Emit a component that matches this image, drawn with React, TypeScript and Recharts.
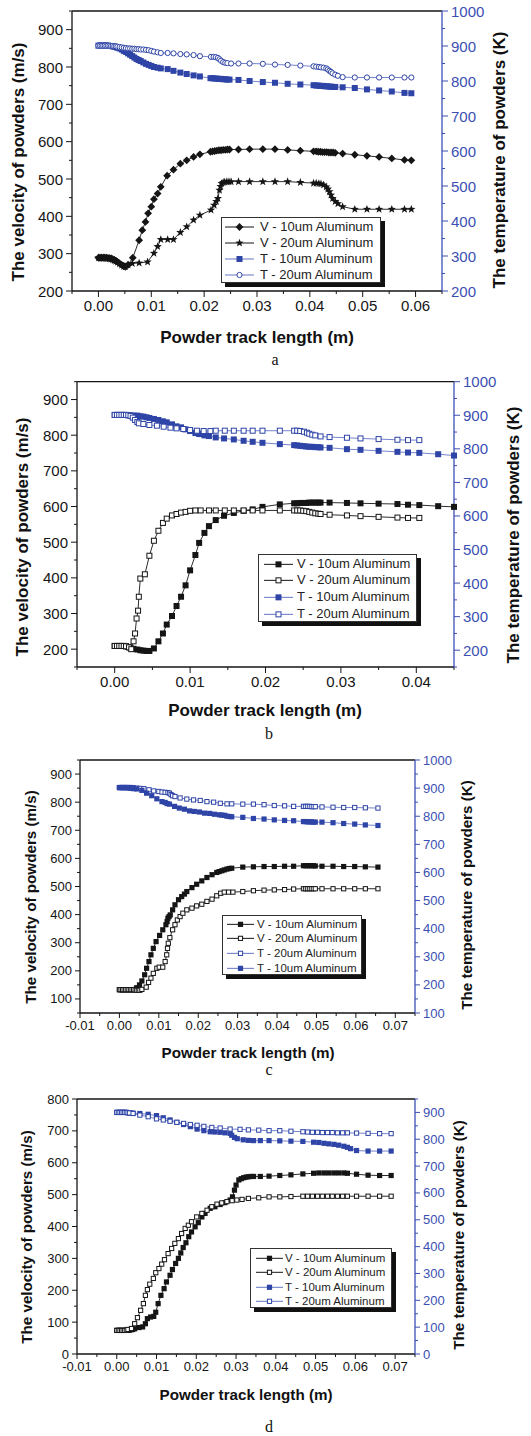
import React from "react";
import { LineChart, Line, XAxis, YAxis } from "recharts";

type Pt = [number, number]; // [track length (m), value]

// ---------- panel a ----------
const A_V10: Pt[] = [
  [0, 289], [0.0003, 289], [0.0006, 289], [0.0009, 289], [0.0012, 289], [0.0015, 289], [0.0018, 288], [0.0021, 288],
  [0.0024, 287], [0.0027, 285], [0.003, 283], [0.0033, 281], [0.0036, 278], [0.004, 274], [0.0044, 270], [0.0048, 267],
  [0.0051, 265], [0.0056, 270], [0.0065, 289], [0.0077, 336], [0.0083, 363], [0.0089, 385], [0.0094, 408], [0.01, 426],
  [0.0105, 446], [0.0112, 461], [0.0118, 479], [0.013, 509], [0.0142, 525], [0.0155, 541], [0.0167, 550], [0.018, 559],
  [0.0192, 566], [0.0212, 573], [0.0216, 574], [0.022, 575], [0.0224, 576], [0.0228, 577], [0.0232, 577], [0.0236, 578],
  [0.024, 578], [0.0244, 579], [0.0248, 579], [0.0265, 579], [0.0286, 580], [0.0311, 580], [0.0334, 580], [0.0358, 578],
  [0.0382, 576], [0.0407, 574], [0.0412, 574], [0.0416, 573], [0.042, 573], [0.0424, 572], [0.0428, 572], [0.0432, 572],
  [0.0436, 571], [0.044, 571], [0.0444, 571], [0.0448, 570], [0.0462, 568], [0.0485, 565], [0.0508, 562], [0.0531, 559],
  [0.0555, 555], [0.0579, 551], [0.0592, 550],
];
const A_V20: Pt[] = [
  [0, 289], [0.0003, 289], [0.0006, 289], [0.0009, 289], [0.0012, 289], [0.0015, 288], [0.0018, 288], [0.0021, 287],
  [0.0024, 286], [0.0027, 284], [0.003, 282], [0.0033, 280], [0.0036, 277], [0.004, 273], [0.0044, 269], [0.0048, 266],
  [0.0051, 265], [0.0056, 270], [0.0064, 274], [0.0077, 275], [0.0093, 278], [0.0105, 301], [0.0112, 319], [0.0118, 338],
  [0.0131, 338], [0.0142, 338], [0.0155, 357], [0.0167, 372], [0.018, 390], [0.0192, 403], [0.0213, 417], [0.0219, 430],
  [0.0223, 440], [0.0226, 448], [0.0229, 470], [0.0231, 480], [0.0233, 488], [0.0236, 491], [0.0239, 492], [0.0243, 493],
  [0.0247, 493], [0.0251, 493], [0.0265, 493], [0.0286, 493], [0.0311, 493], [0.0334, 493], [0.0358, 493], [0.0382, 491],
  [0.0407, 489], [0.0412, 489], [0.0417, 488], [0.0421, 487], [0.0426, 484], [0.0431, 479], [0.0434, 473], [0.0437, 466],
  [0.044, 457], [0.0443, 448], [0.0448, 440], [0.0453, 434], [0.0462, 426], [0.0485, 419], [0.0508, 419], [0.0531, 419],
  [0.0555, 419], [0.0579, 419], [0.0592, 419],
];
const A_T10: Pt[] = [
  [0, 901], [0.0003, 901], [0.0006, 901], [0.0009, 901], [0.0012, 901], [0.0015, 901], [0.0018, 901], [0.0021, 900],
  [0.0024, 900], [0.0027, 899], [0.003, 898], [0.0033, 897], [0.0036, 895], [0.004, 893], [0.0044, 890], [0.0048, 886],
  [0.0052, 883], [0.0056, 879], [0.006, 875], [0.0064, 871], [0.0068, 867], [0.0072, 863], [0.0076, 860], [0.008, 857],
  [0.0085, 853], [0.009, 849], [0.0095, 846], [0.01, 843], [0.0105, 840], [0.0112, 838], [0.0118, 836], [0.0131, 834],
  [0.0142, 829], [0.0155, 824], [0.0167, 820], [0.018, 816], [0.0192, 813], [0.0212, 808], [0.0216, 808], [0.022, 807],
  [0.0224, 807], [0.0228, 806], [0.0232, 806], [0.0236, 805], [0.024, 805], [0.0244, 804], [0.0248, 804], [0.0265, 803],
  [0.0286, 800], [0.0311, 797], [0.0334, 795], [0.0358, 792], [0.0382, 790], [0.0407, 788], [0.0412, 787], [0.0416, 787],
  [0.042, 786], [0.0424, 786], [0.0428, 785], [0.0432, 785], [0.0436, 784], [0.044, 784], [0.0444, 783], [0.0448, 783],
  [0.0462, 782], [0.0485, 780], [0.0508, 776], [0.0531, 773], [0.0555, 770], [0.0579, 766], [0.0592, 765],
];
const A_T20: Pt[] = [
  [0, 901], [0.0003, 901], [0.0006, 901], [0.0009, 901], [0.0012, 901], [0.0015, 901], [0.0018, 901], [0.0021, 901],
  [0.0024, 900], [0.0027, 900], [0.003, 899], [0.0033, 899], [0.0036, 898], [0.004, 897], [0.0044, 896], [0.0048, 895],
  [0.0052, 894], [0.0056, 893], [0.006, 893], [0.0064, 892], [0.0068, 892], [0.0072, 891], [0.0076, 891], [0.008, 890],
  [0.0085, 890], [0.009, 889], [0.0095, 888], [0.01, 886], [0.0105, 884], [0.0112, 882], [0.0118, 880], [0.0131, 880],
  [0.0142, 879], [0.0155, 877], [0.0167, 876], [0.018, 874], [0.0192, 871], [0.0213, 869], [0.0218, 869], [0.0222, 868],
  [0.0226, 866], [0.0229, 862], [0.0232, 858], [0.0236, 854], [0.024, 852], [0.0244, 851], [0.0251, 850], [0.0265, 850],
  [0.0286, 850], [0.0311, 849], [0.0334, 847], [0.0358, 846], [0.0382, 844], [0.0407, 842], [0.0412, 841], [0.0417, 840],
  [0.0421, 839], [0.0426, 838], [0.0431, 836], [0.0434, 833], [0.0437, 829], [0.044, 826], [0.0443, 822], [0.0448, 818],
  [0.0453, 815], [0.0462, 811], [0.0485, 810], [0.0508, 810], [0.0531, 810], [0.0555, 810], [0.0579, 810], [0.0592, 810],
];

// ---------- panel b ----------
const B_V10: Pt[] = [
  [0, 209], [0.0003, 209], [0.0006, 209], [0.0009, 209], [0.0012, 209], [0.0015, 208], [0.0018, 206], [0.0021, 203],
  [0.0025, 201], [0.003, 199], [0.0034, 197], [0.0038, 196], [0.0042, 195], [0.0046, 195], [0.0052, 202], [0.0058, 222],
  [0.0064, 244], [0.0069, 269], [0.0076, 293], [0.0082, 321], [0.0088, 347], [0.0094, 379], [0.01, 421], [0.0107, 464],
  [0.0112, 498], [0.0119, 526], [0.0125, 545], [0.0134, 562], [0.0145, 574], [0.0158, 582], [0.0171, 588], [0.0183, 592],
  [0.0196, 599], [0.0219, 606], [0.0238, 609], [0.0242, 609], [0.0246, 610], [0.025, 610], [0.0254, 610], [0.0258, 611],
  [0.0262, 611], [0.0266, 611], [0.027, 611], [0.0273, 611], [0.0285, 611], [0.0308, 610], [0.0326, 609], [0.035, 608],
  [0.0375, 607], [0.0389, 605], [0.0404, 604], [0.0429, 601], [0.045, 599],
];
const B_V20: Pt[] = [
  [0, 209], [0.0003, 209], [0.0006, 209], [0.0009, 209], [0.0012, 209], [0.0015, 208], [0.0019, 205], [0.0022, 200],
  [0.0025, 222], [0.0027, 244], [0.0029, 286], [0.0031, 308], [0.0032, 347], [0.0034, 398], [0.004, 410], [0.0046, 462],
  [0.0052, 504], [0.0058, 532], [0.0064, 554], [0.0069, 566], [0.0076, 575], [0.0082, 579], [0.0088, 583], [0.0094, 585],
  [0.01, 588], [0.0107, 589], [0.0114, 589], [0.0125, 589], [0.0134, 589], [0.0146, 589], [0.0158, 589], [0.0171, 589],
  [0.0183, 589], [0.0196, 589], [0.0219, 589], [0.0238, 589], [0.0242, 589], [0.0246, 589], [0.025, 588], [0.0254, 587],
  [0.0258, 585], [0.0262, 583], [0.0266, 581], [0.027, 580], [0.0273, 579], [0.0285, 577], [0.0308, 575], [0.0326, 573],
  [0.035, 571], [0.0375, 569], [0.0389, 568], [0.0404, 568],
];
const B_T10: Pt[] = [
  [0, 901], [0.0003, 901], [0.0006, 901], [0.0009, 901], [0.0012, 901], [0.0015, 901], [0.0018, 900], [0.0021, 900],
  [0.0025, 899], [0.003, 899], [0.0034, 897], [0.0038, 896], [0.0042, 894], [0.0046, 892], [0.0052, 889], [0.0058, 886],
  [0.0064, 882], [0.0069, 879], [0.0076, 873], [0.0082, 867], [0.0088, 864], [0.0094, 858], [0.01, 853], [0.0107, 847],
  [0.0112, 844], [0.0119, 840], [0.0125, 838], [0.0134, 834], [0.0145, 831], [0.0158, 828], [0.0171, 824], [0.0183, 821],
  [0.0196, 818], [0.0219, 814], [0.0238, 811], [0.0242, 810], [0.0246, 809], [0.025, 808], [0.0254, 807], [0.0258, 806],
  [0.0262, 806], [0.0266, 805], [0.027, 805], [0.0273, 804], [0.0285, 803], [0.0308, 799], [0.0326, 797], [0.035, 794],
  [0.0375, 791], [0.0389, 789], [0.0404, 788], [0.0429, 784], [0.045, 780],
];
const B_T20: Pt[] = [
  [0, 901], [0.0003, 901], [0.0006, 901], [0.0009, 901], [0.0012, 901], [0.0015, 901], [0.0018, 900], [0.0021, 898],
  [0.0024, 893], [0.0027, 886], [0.003, 880], [0.0032, 876], [0.0038, 874], [0.0046, 871], [0.0056, 869], [0.0065, 866],
  [0.0074, 863], [0.0082, 861], [0.0091, 859], [0.01, 856], [0.0109, 854], [0.0118, 853], [0.0127, 853], [0.0134, 854],
  [0.0146, 854], [0.0158, 854], [0.0171, 854], [0.0183, 854], [0.0196, 854], [0.0219, 854], [0.0238, 854], [0.0242, 854],
  [0.0246, 853], [0.0251, 851], [0.0255, 848], [0.0258, 845], [0.0262, 842], [0.0266, 840], [0.0273, 837], [0.0285, 835],
  [0.0308, 833], [0.0326, 831], [0.035, 829], [0.0375, 827], [0.0389, 826], [0.0404, 826],
];

// ---------- panel c ----------
const C_V10: Pt[] = [
  [0, 133], [0.0004, 133], [0.0008, 133], [0.0012, 133], [0.0016, 133], [0.002, 133], [0.0024, 133], [0.0028, 133],
  [0.0032, 133], [0.0036, 133], [0.004, 134], [0.0044, 140], [0.0051, 150], [0.0057, 164], [0.0064, 186], [0.0069, 209],
  [0.0075, 233], [0.008, 257], [0.0086, 280], [0.0093, 304], [0.0102, 326], [0.011, 346], [0.0118, 364], [0.0121, 375],
  [0.0123, 387], [0.0126, 393], [0.0129, 399], [0.0135, 417], [0.0141, 435], [0.015, 453], [0.0158, 464], [0.0165, 473],
  [0.0171, 482], [0.0184, 496], [0.0196, 508], [0.0209, 520], [0.0222, 532], [0.0235, 542], [0.0247, 550], [0.0253, 553],
  [0.026, 556], [0.0266, 559], [0.0273, 562], [0.0279, 564], [0.0285, 565], [0.0313, 569], [0.034, 570], [0.0367, 571],
  [0.0393, 571], [0.0419, 572], [0.0442, 572], [0.0467, 574], [0.0472, 574], [0.0477, 574], [0.0482, 574], [0.0487, 574],
  [0.0492, 574], [0.0497, 573], [0.0514, 572], [0.0542, 572], [0.0569, 571], [0.0597, 571], [0.0624, 570], [0.0656, 569],
];
const C_V20: Pt[] = [
  [0, 133], [0.0004, 133], [0.0008, 133], [0.0012, 133], [0.0016, 133], [0.002, 133], [0.0024, 133], [0.0028, 133],
  [0.0032, 133], [0.0036, 133], [0.004, 132], [0.0044, 131], [0.0048, 131], [0.0052, 131], [0.0057, 134], [0.0068, 142],
  [0.0074, 159], [0.008, 174], [0.0086, 191], [0.0095, 209], [0.0101, 213], [0.011, 213], [0.0116, 233], [0.012, 257],
  [0.0122, 280], [0.0124, 298], [0.0128, 318], [0.0135, 346], [0.0141, 364], [0.0147, 381], [0.0154, 393], [0.0161, 405],
  [0.0171, 417], [0.0184, 423], [0.0196, 431], [0.0209, 437], [0.0222, 447], [0.0235, 455], [0.0247, 467], [0.0257, 476],
  [0.0266, 480], [0.0277, 480], [0.0288, 480], [0.0313, 482], [0.034, 485], [0.0367, 487], [0.0393, 488], [0.0419, 489],
  [0.0442, 491], [0.0467, 492], [0.0472, 492], [0.0477, 492], [0.0482, 492], [0.0487, 492], [0.0492, 492], [0.0497, 492],
  [0.0514, 492], [0.0542, 492], [0.0569, 492], [0.0597, 492], [0.0624, 492], [0.0656, 492],
];
const C_T20: Pt[] = [
  [0, 902], [0.0004, 902], [0.0008, 902], [0.0012, 902], [0.0016, 902], [0.002, 902], [0.0024, 902], [0.0028, 902],
  [0.0032, 902], [0.0036, 901], [0.0044, 900], [0.0052, 899], [0.0062, 898], [0.0075, 894], [0.0087, 890], [0.01, 888],
  [0.0108, 886], [0.0116, 885], [0.0123, 884], [0.0127, 882], [0.0131, 877], [0.0135, 873], [0.0141, 870], [0.0154, 865],
  [0.0171, 861], [0.0188, 858], [0.0205, 856], [0.0222, 852], [0.0239, 850], [0.0256, 846], [0.0273, 844], [0.0285, 844],
  [0.0313, 843], [0.034, 843], [0.0367, 841], [0.0393, 838], [0.0419, 837], [0.0442, 835], [0.0467, 835], [0.0472, 835],
  [0.0477, 835], [0.0482, 835], [0.0487, 834], [0.0492, 834], [0.0497, 834], [0.0514, 833], [0.0542, 832], [0.0569, 831],
  [0.0597, 831], [0.0624, 830], [0.0656, 829],
];
const C_T10: Pt[] = [
  [0, 902], [0.0004, 902], [0.0008, 902], [0.0012, 902], [0.0016, 902], [0.002, 902], [0.0024, 901], [0.0028, 900],
  [0.0032, 899], [0.0036, 898], [0.0044, 897], [0.0057, 892], [0.0069, 882], [0.0082, 873], [0.0095, 862], [0.0108, 852],
  [0.0116, 849], [0.0121, 845], [0.0127, 843], [0.014, 835], [0.0152, 829], [0.0165, 825], [0.0178, 819], [0.019, 817],
  [0.0203, 815], [0.0216, 811], [0.0229, 810], [0.0241, 807], [0.0254, 805], [0.026, 804], [0.0267, 803], [0.0273, 800],
  [0.028, 799], [0.0285, 798], [0.0313, 796], [0.034, 792], [0.0367, 790], [0.0393, 787], [0.0419, 785], [0.0442, 784],
  [0.0467, 781], [0.0472, 781], [0.0477, 780], [0.0482, 780], [0.0487, 780], [0.0492, 779], [0.0497, 779], [0.0514, 779],
  [0.0542, 777], [0.0569, 774], [0.0597, 772], [0.0624, 769], [0.0656, 767],
];

// ---------- panel d ----------
const D_V10: Pt[] = [
  [0, 74], [0.0004, 74], [0.0008, 74], [0.0012, 74], [0.0016, 74], [0.002, 74], [0.0024, 74], [0.0028, 74], [0.0032, 75],
  [0.0036, 76], [0.004, 77], [0.0045, 79], [0.0056, 83], [0.0065, 85], [0.0072, 95], [0.0077, 111], [0.0085, 116],
  [0.0093, 118], [0.0098, 131], [0.0104, 158], [0.0111, 184], [0.0119, 205], [0.0125, 226], [0.0134, 247], [0.014, 265],
  [0.0148, 284], [0.0155, 300], [0.0161, 317], [0.0167, 334], [0.0174, 349], [0.0181, 368], [0.0188, 383], [0.0197, 399],
  [0.0205, 412], [0.0214, 430], [0.0222, 441], [0.0235, 457], [0.0247, 462], [0.026, 469], [0.0272, 475], [0.0285, 483],
  [0.0291, 493], [0.0296, 514], [0.03, 530], [0.0307, 546], [0.0313, 550], [0.0319, 553], [0.0325, 555], [0.0331, 556],
  [0.0338, 557], [0.0344, 557], [0.0361, 557], [0.0383, 558], [0.041, 560], [0.0438, 562], [0.0468, 565], [0.0495, 567],
  [0.0508, 568], [0.0521, 568], [0.0533, 568], [0.0546, 568], [0.0558, 568], [0.0571, 568], [0.058, 567], [0.0603, 564],
  [0.0632, 561], [0.0661, 560], [0.069, 560],
];
const D_V20: Pt[] = [
  [0, 74], [0.0004, 74], [0.0008, 74], [0.0012, 74], [0.0016, 74], [0.002, 74], [0.0024, 75], [0.0028, 77], [0.0037, 80],
  [0.0045, 95], [0.0052, 114], [0.006, 137], [0.0067, 158], [0.0072, 184], [0.0077, 202], [0.0083, 219], [0.0092, 237],
  [0.0098, 255], [0.0106, 268], [0.0113, 282], [0.012, 296], [0.0129, 315], [0.0138, 331], [0.0146, 347], [0.0155, 362],
  [0.0163, 378], [0.0172, 394], [0.018, 404], [0.0188, 415], [0.0201, 430], [0.0214, 441], [0.0227, 451], [0.0239, 462],
  [0.0252, 470], [0.0264, 474], [0.0277, 478], [0.029, 481], [0.0302, 483], [0.0315, 485], [0.0331, 488], [0.0357, 490],
  [0.0383, 493], [0.041, 493], [0.0438, 494], [0.0468, 495], [0.048, 495], [0.0492, 495], [0.0505, 495], [0.0517, 495],
  [0.053, 495], [0.0542, 495], [0.0555, 495], [0.0568, 495], [0.058, 495], [0.0603, 495], [0.0632, 495], [0.0661, 495],
  [0.069, 495],
];
const D_T10: Pt[] = [
  [0, 900], [0.0004, 900], [0.0008, 900], [0.0012, 900], [0.0016, 900], [0.002, 900], [0.0024, 900], [0.0028, 899],
  [0.0032, 899], [0.0036, 898], [0.0041, 897], [0.0058, 896], [0.0079, 893], [0.01, 888], [0.0117, 880], [0.0134, 872],
  [0.0151, 863], [0.0168, 855], [0.0185, 847], [0.0202, 838], [0.0219, 832], [0.0235, 828], [0.0247, 827], [0.026, 826],
  [0.0272, 824], [0.0285, 822], [0.0289, 815], [0.0296, 807], [0.0303, 802], [0.0318, 798], [0.0331, 796], [0.0344, 795],
  [0.0361, 795], [0.0383, 795], [0.041, 794], [0.0438, 793], [0.0468, 792], [0.0495, 789], [0.0508, 788], [0.0521, 785],
  [0.0533, 783], [0.0546, 781], [0.0558, 778], [0.0571, 774], [0.058, 770], [0.0588, 765], [0.0603, 758], [0.0632, 756],
  [0.0661, 756], [0.069, 756],
];
const D_T20: Pt[] = [
  [0, 900], [0.0004, 900], [0.0008, 900], [0.0012, 900], [0.0016, 900], [0.002, 900], [0.0024, 900], [0.0028, 899],
  [0.0032, 898], [0.0041, 896], [0.0058, 890], [0.0079, 884], [0.01, 876], [0.0117, 872], [0.0134, 867], [0.0151, 863],
  [0.0168, 859], [0.0185, 855], [0.0202, 852], [0.0219, 848], [0.0239, 844], [0.026, 842], [0.0285, 838], [0.031, 837],
  [0.0331, 835], [0.0357, 834], [0.0383, 832], [0.041, 832], [0.0438, 830], [0.0468, 828], [0.048, 827], [0.0492, 826],
  [0.0505, 826], [0.0517, 825], [0.053, 825], [0.0542, 825], [0.0555, 824], [0.0568, 824], [0.058, 824], [0.0603, 823],
  [0.0632, 822], [0.0661, 821], [0.069, 821],
];

// ---------- ticks ----------
const A_X_TICKS = [0, 0.01, 0.02, 0.03, 0.04, 0.05, 0.06];
const B_X_TICKS = [0, 0.01, 0.02, 0.03, 0.04];
const CD_X_TICKS = [-0.01, 0, 0.01, 0.02, 0.03, 0.04, 0.05, 0.06, 0.07];
const A_V_TICKS = [200, 300, 400, 500, 600, 700, 800, 900];
const A_T_TICKS = [200, 300, 400, 500, 600, 700, 800, 900, 1000];
const B_V_TICKS = [200, 300, 400, 500, 600, 700, 800, 900];
const B_T_TICKS = [200, 300, 400, 500, 600, 700, 800, 900, 1000];
const C_V_TICKS = [100, 200, 300, 400, 500, 600, 700, 800, 900];
const C_T_TICKS = [100, 200, 300, 400, 500, 600, 700, 800, 900, 1000];
const D_V_TICKS = [0, 100, 200, 300, 400, 500, 600, 700, 800];
const D_T_TICKS = [0, 100, 200, 300, 400, 500, 600, 700, 800, 900];

const V10 = "V - 10um Aluminum";
const V20 = "V - 20um Aluminum";
const T10 = "T - 10um Aluminum";
const T20 = "T - 20um Aluminum";

const X_TITLE = "Powder track length (m)";
const V_TITLE = "The velocity of powders (m/s)";
const T_TITLE = "The temperature of powders (K)";

const BLACK = "#151515";
const BLUE = "#2e44a6";
const BLUE_LINE = "#6676c6";
const BLUE_AXIS = "#3b4fb3";
const SANS = "'Liberation Sans', Arial, Helvetica, sans-serif";
const SERIF = "'Liberation Serif', 'Times New Roman', serif";

type Kind = "diamond" | "star" | "sq" | "osq" | "ocirc";

function Mark({ cx, cy, kind, color, r }: { cx?: number; cy?: number; kind: Kind; color: string; r: number }) {
  if (cx == null || cy == null || isNaN(cx) || isNaN(cy)) return null;
  if (kind === "diamond") {
    const s = r * 1.3;
    return <path d={`M${cx},${cy - s}L${cx + s},${cy}L${cx},${cy + s}L${cx - s},${cy}Z`} fill={color} />;
  }
  if (kind === "star") {
    const pts: string[] = [];
    for (let i = 0; i < 10; i++) {
      const a = -Math.PI / 2 + (i * Math.PI) / 5;
      const rr = i % 2 === 0 ? r * 1.45 : r * 0.6;
      pts.push(`${cx + rr * Math.cos(a)},${cy + rr * Math.sin(a)}`);
    }
    return <polygon points={pts.join(" ")} fill={color} />;
  }
  if (kind === "sq") return <rect x={cx - r} y={cy - r} width={2 * r} height={2 * r} fill={color} />;
  if (kind === "osq")
    return <rect x={cx - r + 0.5} y={cy - r + 0.5} width={2 * r - 1} height={2 * r - 1} fill="#fff" stroke={color} strokeWidth={1} />;
  return <circle cx={cx} cy={cy} r={r - 0.4} fill="#fff" stroke={color} strokeWidth={1} />;
}

// minor ticks halfway between the majors, filling the axis domain
function withMinors(major: number[], dom: [number, number]) {
  const step = (major[1] - major[0]) / 2;
  const out: number[] = [];
  const n0 = Math.ceil((dom[0] - major[0]) / step - 1e-6);
  const n1 = Math.floor((dom[1] - major[0]) / step + 1e-6);
  for (let i = n0; i <= n1; i++) out.push(Number((major[0] + i * step).toFixed(6)));
  return out;
}

function AxisTick(props: any) {
  const { x, y, payload, side, major, fs, color, len, gap, fmt } = props;
  const v = payload.value;
  const isMajor = major.some((m: number) => Math.abs(m - v) < 1e-7);
  const l = isMajor ? len : Math.round(len * 0.55);
  const textStyle = { fontFamily: SANS, fontSize: fs, fill: color };
  if (side === "left")
    return (
      <g>
        <line x1={x} y1={y} x2={x - l} y2={y} stroke={color} strokeWidth={1} />
        {isMajor && (
          <text x={x - len - gap} y={y} textAnchor="end" dominantBaseline="central" style={textStyle}>{fmt(v)}</text>
        )}
      </g>
    );
  if (side === "right")
    return (
      <g>
        <line x1={x} y1={y} x2={x + l} y2={y} stroke={color} strokeWidth={1} />
        {isMajor && (
          <text x={x + len + gap} y={y} textAnchor="start" dominantBaseline="central" style={textStyle}>{fmt(v)}</text>
        )}
      </g>
    );
  if (side === "top") return <line x1={x} y1={y} x2={x} y2={y + l} stroke={color} strokeWidth={1} />;
  return (
    <g>
      <line x1={x} y1={y} x2={x} y2={y + l} stroke={color} strokeWidth={1} />
      {isMajor && (
        <text x={x} y={y + len + gap} dy="0.72em" textAnchor="middle" style={textStyle}>{fmt(v)}</text>
      )}
    </g>
  );
}

interface Series { data: Pt[]; axis: "v" | "t"; kind: Kind; name: string }

interface Panel {
  id: string;
  top: number; h: number; ml: number; mr: number; mt: number;
  xDom: [number, number]; vDom: [number, number]; tDom: [number, number];
  xMajor: number[]; vMajor: number[]; tMajor: number[];
  series: Series[];
  fs: number; len: number; gap: number; r: number; titleFs: number;
  vTitle: [number, number]; tTitle: [number, number]; xTitle: [number, number]; letter: [number, number];
  legend: { left: number; top: number; w: number; h: number; rowH: number; padTop: number; fs: number; lineX0: number; lineX1: number; textX: number };
}

const PANELS: Panel[] = [
  {
    id: "a", top: 0, h: 321, ml: 72, mr: 89, mt: 10,
    xDom: [-0.005, 0.065], vDom: [200, 950], tDom: [200, 1000],
    xMajor: A_X_TICKS, vMajor: A_V_TICKS, tMajor: A_T_TICKS,
    series: [
      { data: A_V10, axis: "v", kind: "diamond", name: V10 },
      { data: A_V20, axis: "v", kind: "star", name: V20 },
      { data: A_T10, axis: "t", kind: "sq", name: T10 },
      { data: A_T20, axis: "t", kind: "ocirc", name: T20 },
    ],
    fs: 15, len: 6, gap: 3, r: 3, titleFs: 17,
    vTitle: [18, 162], tTitle: [499, 160], xTitle: [257, 337], letter: [275, 360],
    legend: { left: 221, top: 217, w: 160, h: 66, rowH: 16, padTop: 1, fs: 13, lineX0: 3, lineX1: 32, textX: 38 },
  },
  {
    id: "b", top: 370, h: 327, ml: 77, mr: 77, mt: 10.7,
    xDom: [-0.005, 0.045], vDom: [150, 950], tDom: [150, 1000],
    xMajor: B_X_TICKS, vMajor: B_V_TICKS, tMajor: B_T_TICKS,
    series: [
      { data: B_V10, axis: "v", kind: "sq", name: V10 },
      { data: B_V20, axis: "v", kind: "osq", name: V20 },
      { data: B_T10, axis: "t", kind: "sq", name: T10 },
      { data: B_T20, axis: "t", kind: "osq", name: T20 },
    ],
    fs: 15, len: 6, gap: 3, r: 3, titleFs: 17,
    vTitle: [22, 537], tTitle: [513, 535], xTitle: [265, 710], letter: [269, 734],
    legend: { left: 258, top: 554, w: 159, h: 68, rowH: 16.7, padTop: 0.8, fs: 13, lineX0: 5, lineX1: 34, textX: 38 },
  },
  {
    id: "c", top: 750, h: 293, ml: 80, mr: 116, mt: 9,
    xDom: [-0.01, 0.075], vDom: [50, 950], tDom: [100, 1000],
    xMajor: CD_X_TICKS, vMajor: C_V_TICKS, tMajor: C_T_TICKS,
    series: [
      { data: C_V10, axis: "v", kind: "sq", name: V10 },
      { data: C_V20, axis: "v", kind: "osq", name: V20 },
      { data: C_T20, axis: "t", kind: "osq", name: T20 },
      { data: C_T10, axis: "t", kind: "sq", name: T10 },
    ],
    fs: 13, len: 5, gap: 3, r: 2.6, titleFs: 15.2,
    vTitle: [31, 897], tTitle: [467, 895], xTitle: [248, 1053], letter: [269, 1070],
    legend: { left: 222, top: 915, w: 140, h: 60, rowH: 14.7, padTop: 0.8, fs: 11.5, lineX0: 4, lineX1: 31, textX: 34 },
  },
  {
    id: "d", top: 1090, h: 294, ml: 77, mr: 116, mt: 8,
    xDom: [-0.01, 0.075], vDom: [0, 800], tDom: [0, 950],
    xMajor: CD_X_TICKS, vMajor: D_V_TICKS, tMajor: D_T_TICKS,
    series: [
      { data: D_V10, axis: "v", kind: "sq", name: V10 },
      { data: D_V20, axis: "v", kind: "osq", name: V20 },
      { data: D_T10, axis: "t", kind: "sq", name: T10 },
      { data: D_T20, axis: "t", kind: "osq", name: T20 },
    ],
    fs: 13, len: 5, gap: 3, r: 2.6, titleFs: 15.2,
    vTitle: [27, 1237], tTitle: [459, 1235], xTitle: [246, 1395], letter: [269, 1427],
    legend: { left: 250, top: 1248, w: 142, h: 60, rowH: 14.6, padTop: 1.5, fs: 11.5, lineX0: 5, lineX1: 32, textX: 34 },
  },
];

const fmtX = (v: number) => v.toFixed(2);
const fmtY = (v: number) => String(v);

function LegendBox({ p }: { p: Panel }) {
  const L = p.legend;
  return (
    <div
      style={{
        position: "absolute", left: L.left, top: L.top, width: L.w, height: L.h, boxSizing: "border-box",
        border: "1px solid #333", background: "#fff", boxShadow: "4px 4px 0 #111", paddingTop: L.padTop,
      }}
    >
      {p.series.map((s) => {
        const isT = s.axis === "t";
        const markColor = isT ? BLUE : BLACK;
        return (
          <div key={s.name} style={{ position: "relative", height: L.rowH }}>
            <svg width={L.lineX1 + 2} height={L.rowH} style={{ position: "absolute", left: 0, top: 0 }}>
              <line x1={L.lineX0} x2={L.lineX1} y1={L.rowH / 2} y2={L.rowH / 2} stroke={isT ? BLUE_LINE : BLACK} strokeWidth={1} />
              <Mark cx={(L.lineX0 + L.lineX1) / 2} cy={L.rowH / 2} kind={s.kind} color={markColor} r={p.r} />
            </svg>
            <span
              style={{
                position: "absolute", left: L.textX, top: 0, lineHeight: `${L.rowH}px`, fontFamily: SANS,
                fontSize: L.fs, color: "#222", whiteSpace: "nowrap",
              }}
            >
              {s.name}
            </span>
          </div>
        );
      })}
    </div>
  );
}

function PanelChart({ p }: { p: Panel }) {
  const xTicks = withMinors(p.xMajor, p.xDom);
  const vTicks = withMinors(p.vMajor, p.vDom);
  const tTicks = withMinors(p.tMajor, p.tDom);
  const titleBase: React.CSSProperties = {
    position: "absolute", fontFamily: SANS, fontWeight: "bold", fontSize: p.titleFs, color: "#111",
    whiteSpace: "nowrap", lineHeight: 1,
  };
  return (
    <>
      <div style={{ position: "absolute", left: 0, top: p.top }}>
        <LineChart width={531} height={p.h} margin={{ top: p.mt, right: 0, bottom: 0, left: 0 }}>
          <XAxis
            xAxisId="bottom" dataKey="x" type="number" domain={p.xDom} ticks={xTicks} interval={0}
            height={30} tickSize={0} tickMargin={0} tickLine={false}
            axisLine={{ stroke: BLACK, strokeWidth: 1.3 }}
            tick={(t: any) => (
              <AxisTick {...t} side="bottom" major={p.xMajor} fs={p.fs} color={BLACK} len={p.len} gap={p.gap} fmt={fmtX} />
            )}
          />
          <XAxis
            xAxisId="top" orientation="top" type="number" domain={p.xDom} ticks={xTicks} interval={0}
            height={1} tickSize={0} tickMargin={0} tickLine={false}
            axisLine={{ stroke: BLACK, strokeWidth: 1.3 }}
            tick={(t: any) => (
              <AxisTick {...t} side="top" major={p.xMajor} fs={p.fs} color={BLACK} len={p.len - 1} gap={p.gap} fmt={fmtX} />
            )}
          />
          <YAxis
            yAxisId="v" orientation="left" type="number" domain={p.vDom} ticks={vTicks} interval={0}
            width={p.ml} tickSize={0} tickMargin={0} tickLine={false}
            axisLine={{ stroke: BLACK, strokeWidth: 1.3 }}
            tick={(t: any) => (
              <AxisTick {...t} side="left" major={p.vMajor} fs={p.fs} color={BLACK} len={p.len} gap={p.gap} fmt={fmtY} />
            )}
          />
          <YAxis
            yAxisId="t" orientation="right" type="number" domain={p.tDom} ticks={tTicks} interval={0}
            width={p.mr} tickSize={0} tickMargin={0} tickLine={false}
            axisLine={{ stroke: BLUE_AXIS, strokeWidth: 1.3 }}
            tick={(t: any) => (
              <AxisTick {...t} side="right" major={p.tMajor} fs={p.fs} color={BLUE_AXIS} len={p.len} gap={p.gap} fmt={fmtY} />
            )}
          />
          {p.series.map((s) => {
            const isT = s.axis === "t";
            const markColor = isT ? BLUE : BLACK;
            return (
              <Line
                key={s.name}
                xAxisId="bottom"
                yAxisId={s.axis}
                data={s.data.map(([x, y]) => ({ x, y }))}
                dataKey="y"
                type="linear"
                stroke={isT ? BLUE_LINE : BLACK}
                strokeWidth={0.9}
                isAnimationActive={false}
                activeDot={false}
                dot={(d: any) => <Mark key={`${s.name}-${d.index}`} cx={d.cx} cy={d.cy} kind={s.kind} color={markColor} r={p.r} />}
              />
            );
          })}
        </LineChart>
      </div>
      <div style={{ ...titleBase, left: p.vTitle[0], top: p.vTitle[1], transform: "translate(-50%, -50%) rotate(-90deg)" }}>
        {V_TITLE}
      </div>
      <div style={{ ...titleBase, left: p.tTitle[0], top: p.tTitle[1], transform: "translate(-50%, -50%) rotate(-90deg)" }}>
        {T_TITLE}
      </div>
      <div style={{ ...titleBase, left: p.xTitle[0], top: p.xTitle[1], transform: "translate(-50%, -50%)" }}>{X_TITLE}</div>
      <div
        style={{
          position: "absolute", left: p.letter[0], top: p.letter[1], transform: "translate(-50%, -50%)",
          fontFamily: SERIF, fontSize: 16, color: "#111", lineHeight: 1,
        }}
      >
        {p.id}
      </div>
      <LegendBox p={p} />
    </>
  );
}

export default function App() {
  return (
    <div style={{ position: "absolute", left: 0, top: 0, width: 531, height: 1436, background: "#fff", overflow: "hidden" }}>
      {PANELS.map((p) => (
        <PanelChart key={p.id} p={p} />
      ))}
    </div>
  );
}
